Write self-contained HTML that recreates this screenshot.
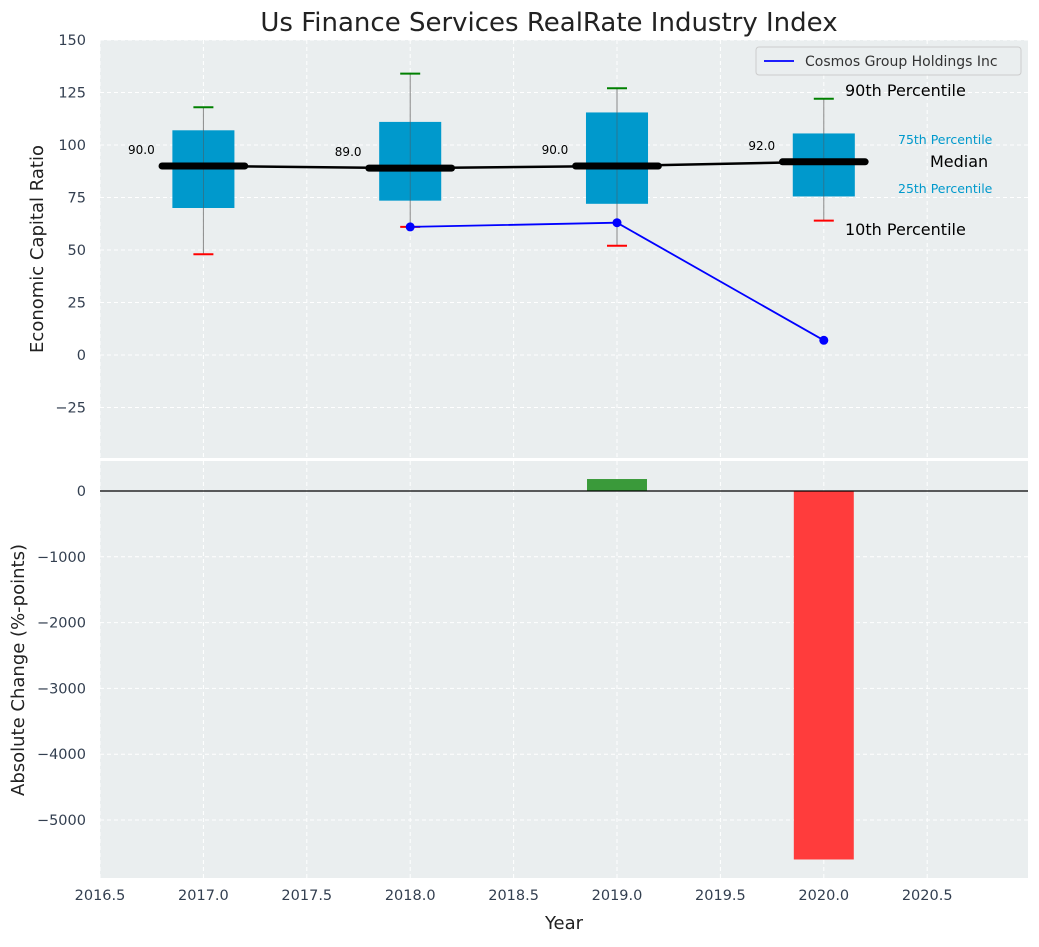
<!DOCTYPE html>
<html><head><meta charset="utf-8"><style>
body{margin:0;background:#fff;font-family:"Liberation Sans","DejaVu Sans",sans-serif}
text{font-family:"DejaVu Sans","Liberation Sans",sans-serif}
</style></head><body>
<svg id="c" width="1039" height="942" xmlns="http://www.w3.org/2000/svg"></svg>
<script>
const years=[2017,2018,2019,2020];
const p10=[48,61,52,64];
const p25=[70,73.5,72,75.5];
const med=[90,89,90,92];
const p75=[107,111,115.5,105.5];
const p90=[118,134,127,122];
const compYears=[2018,2019,2020];
const compVals=[61,63,7];
const chgYears=[2019,2020];
const chgVals=[182,-5600];
const xTicks=[2016.5,2017,2017.5,2018,2018.5,2019,2019.5,2020,2020.5];
const yTopTicks=[150,125,100,75,50,25,0,-25];
const yBotTicks=[0,-1000,-2000,-3000,-4000,-5000];

const NS='http://www.w3.org/2000/svg';
const svg=document.getElementById('c');
function el(t,a,p){const e=document.createElementNS(NS,t);for(const k in a)e.setAttribute(k,a[k]);(p||svg).appendChild(e);return e;}
const L=100,R=1028;
const x=v=>L+(v-2016.5)*206.8;
const T1=40,B1=458,yT=v=>355-v*2.1;
const T2=461,B2=878,yB=v=>491-v*0.0658;
const fmt=v=>v<0?'\u2212'+Math.abs(v):String(v);

let g;
g=el('rect',{x:L,y:T1,width:R-L,height:B1-T1,fill:'#eaeeef'});

g=el('rect',{x:L,y:T2,width:R-L,height:B2-T2,fill:'#eaeeef'});

xTicks.forEach(t=>{
 [[T1,B1],[T2,B2]].forEach(([a,b])=>{g=el('line',{x1:x(t),x2:x(t),y1:a,y2:b,stroke:'#fff','stroke-dasharray':'4,3','stroke-width':1});});
 g=el('text',{x:x(t),y:900,'font-size':14.5,fill:'#333f50','text-anchor':'middle'});g.textContent=t.toFixed(1);
});
yTopTicks.forEach(t=>{
 g=el('line',{x1:L,x2:R,y1:yT(t),y2:yT(t),stroke:'#fff','stroke-dasharray':'4,3'});
 g=el('text',{x:L-14,y:yT(t)+5,'font-size':14.5,fill:'#333f50','text-anchor':'end'});g.textContent=fmt(t);
});
yBotTicks.forEach(t=>{
 g=el('line',{x1:L,x2:R,y1:yB(t),y2:yB(t),stroke:'#fff','stroke-dasharray':'4,3'});
 g=el('text',{x:L-14,y:yB(t)+5,'font-size':14.5,fill:'#333f50','text-anchor':'end'});g.textContent=fmt(t);
});
years.forEach((yr,i)=>{
 const cx=x(yr),hw=0.15*206.8;
 g=el('line',{x1:cx,x2:cx,y1:yT(p90[i]),y2:yT(p10[i]),stroke:'#888','stroke-width':1});
 g=el('rect',{x:cx-hw,y:yT(p75[i]),width:2*hw,height:yT(p25[i])-yT(p75[i]),fill:'#0099cc'});
 g=el('line',{x1:cx,x2:cx,y1:yT(p75[i]),y2:yT(p25[i]),stroke:'#555','stroke-width':0.8,opacity:0.6});
 g=el('line',{x1:cx-10,x2:cx+10,y1:yT(p90[i]),y2:yT(p90[i]),stroke:'green','stroke-width':2});
 g=el('line',{x1:cx-10,x2:cx+10,y1:yT(p10[i]),y2:yT(p10[i]),stroke:'red','stroke-width':2});
 g=el('line',{x1:x(yr-0.2),x2:x(yr+0.2),y1:yT(med[i]),y2:yT(med[i]),stroke:'#000','stroke-width':7,'stroke-linecap':'round'});
 g=el('text',{x:x(yr-0.3),y:yT(med[i])-12,'font-size':12,fill:'#000','text-anchor':'middle'});g.textContent=med[i].toFixed(1);
});
g=el('polyline',{points:years.map((y,i)=>x(y)+','+yT(med[i])).join(' '),fill:'none',stroke:'#000','stroke-width':2.5});
g=el('polyline',{points:compYears.map((y,i)=>x(y)+','+yT(compVals[i])).join(' '),fill:'none',stroke:'blue','stroke-width':1.8});
compYears.forEach((y,i)=>{g=el('circle',{cx:x(y),cy:yT(compVals[i]),r:4.5,fill:'blue'});});
[['90th Percentile',845,96,16,'#000'],['75th Percentile',898,144,12.5,'#0099cc'],['Median',930,167,16,'#000'],['25th Percentile',898,193,12.5,'#0099cc'],['10th Percentile',845,235,16,'#000']].forEach(a=>{
 g=el('text',{x:a[1],y:a[2],'font-size':a[3],fill:a[4]});g.textContent=a[0];
});
g=el('rect',{x:756,y:47,width:265,height:28,fill:'#eaeeef',stroke:'#ccc',rx:3});
g=el('line',{x1:764,x2:794,y1:61,y2:61,stroke:'blue','stroke-width':1.8});
g=el('text',{x:805,y:66,'font-size':14,fill:'#333'});g.textContent='Cosmos Group Holdings Inc';
chgYears.forEach((yr,i)=>{
 const v=chgVals[i],hw=0.145*206.8;
 g=el('rect',{x:x(yr)-hw,y:Math.min(yB(0),yB(v)),width:2*hw,height:Math.abs(yB(v)-yB(0)),fill:v>=0?'#3a9a3a':'#ff3c3c'});
});
g=el('line',{x1:L,x2:R,y1:yB(0),y2:yB(0),stroke:'#000','stroke-width':1.2});
g=el('text',{x:549,y:31,'font-size':26,fill:'#222','text-anchor':'middle'});g.textContent='Us Finance Services RealRate Industry Index';
g=el('text',{x:564,y:929,'font-size':18,fill:'#222','text-anchor':'middle'});g.textContent='Year';
g=el('text',{x:0,y:0,'font-size':18,fill:'#222','text-anchor':'middle',transform:'translate(43,249) rotate(-90)'});g.textContent='Economic Capital Ratio';
g=el('text',{x:0,y:0,'font-size':18,fill:'#222','text-anchor':'middle',transform:'translate(24,670) rotate(-90)'});g.textContent='Absolute Change (%-points)';
</script>
</body></html>
